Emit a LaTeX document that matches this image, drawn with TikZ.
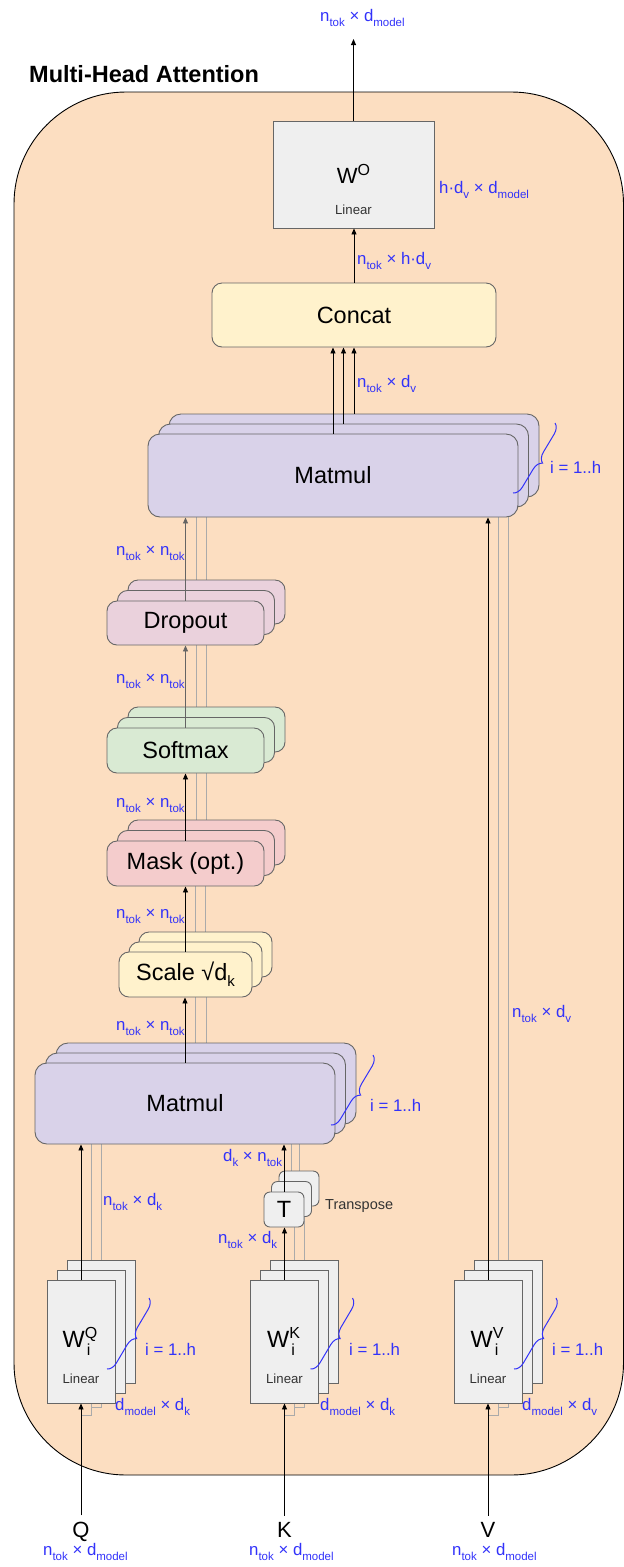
\documentclass[tikz,border=0pt]{standalone}
\usepackage{fontspec}
\setmainfont{Liberation Sans}
\usetikzlibrary{arrows.meta,decorations.pathreplacing,calc}
\definecolor{peach}{RGB}{252,222,193}
\definecolor{lblue}{RGB}{50,50,250}
\definecolor{bord}{RGB}{102,102,102}
\definecolor{cgray}{RGB}{239,239,239}
\definecolor{ccream}{RGB}{255,242,204}
\definecolor{cpurple}{RGB}{217,210,233}
\definecolor{cpink}{RGB}{234,209,220}
\definecolor{cgreen}{RGB}{217,234,211}
\definecolor{cred}{RGB}{244,204,204}
\definecolor{glc}{RGB}{170,170,170}
\definecolor{garr}{RGB}{100,100,100}
\pgfdeclarelayer{back}
\pgfdeclarelayer{bg}
\pgfsetlayers{back,bg,main}
\newcommand\fs[1]{\fontsize{#1}{#1}\selectfont}
\newcommand\lw[1]{\raisebox{-5pt}{\fs{11.5}#1}}
\newcommand\stk[9]{%
 \node[#2,minimum width=#5pt,minimum height=#6pt] (#1c) at ({#3+2*#7},{#4-2*#8}) {};
 \node[#2,minimum width=#5pt,minimum height=#6pt] (#1b) at ({#3+#7},{#4-#8}) {};
 \node[#2,minimum width=#5pt,minimum height=#6pt] (#1a) at (#3,#4) {#9};}
\newcommand\Wsym[1]{\fs{23.5}W\rlap{\raisebox{-8pt}{\hspace{2pt}\fs{16}i}}\raisebox{9pt}{\fs{16}#1}}
\tikzset{
 box/.style={draw=bord, line width=0.9pt, inner sep=0pt, font=\fs{23.5}},
 rbox/.style={box, rounded corners=10pt},
 arr/.style={draw=black, line width=0.9pt, -{Triangle[length=6pt,width=5pt]}},
 garrow/.style={draw=garr, line width=0.9pt, -{Triangle[length=6pt,width=5pt]}},
 gl/.style={draw=glc, line width=0.9pt},
 lab/.style={text=lblue, font=\fs{16.8}, inner sep=0pt, anchor=base west},
 brc/.style={draw=lblue, line width=1pt, decorate, decoration={brace, amplitude=10pt}},
 small/.style={inner sep=0pt, font=\fs{13.2}, text=black!80},
 sym/.style={inner sep=0pt, anchor=center},
}
\begin{document}
\begin{tikzpicture}[x=1pt,y=-1pt]
\useasboundingbox (0,0) rectangle (624,1567);
% outer container
\begin{pgfonlayer}{back}
\node[draw=black, line width=0.9pt, fill=peach, rounded corners=112pt,
      minimum width=609.5pt, minimum height=1383pt, inner sep=0pt] (mha) at (318.75,783.5) {};
\end{pgfonlayer}
\node[anchor=base west, inner sep=0pt, font=\bfseries\fs{23.5}] (title) at (29,82) {Multi-Head Attention};

% ---------- boxes ----------
\stk{mmT}{rbox,fill=cpurple,rounded corners=12pt}{333}{475.5}{370}{83}{10.5}{10}{Matmul}
\stk{dr}{rbox,fill=cpink}{185.5}{623}{157}{44}{10.5}{10.5}{Dropout}
\stk{sm}{rbox,fill=cgreen}{185.5}{750.5}{157}{45}{10.5}{10.5}{Softmax}
\stk{mk}{rbox,fill=cred}{185.5}{863.5}{157}{45}{10.5}{10.5}{Mask (opt.)}
\stk{sc}{rbox,fill=ccream}{185.5}{974.5}{133}{45}{10}{10}{Scale √d\raisebox{-6pt}{\fs{15}k}}
\stk{mmB}{rbox,fill=cpurple,rounded corners=12pt}{185}{1103.5}{300}{81}{10.5}{10}{Matmul}
\stk{t}{rbox,fill=cgray,rounded corners=6pt}{284}{1209.5}{40}{35}{7.5}{10.5}{T}
\stk{wq}{box,fill=cgray}{81}{1341.5}{68}{123}{10}{10}{}
\stk{wk}{box,fill=cgray}{284.5}{1341.5}{68}{123}{10}{10}{}
\stk{wv}{box,fill=cgray}{488}{1341.5}{68}{123}{10}{10}{}
\node[rbox,fill=ccream,minimum width=284pt,minimum height=64pt] (concat) at (354,315) {Concat};
\node[box,fill=cgray,minimum width=161pt,minimum height=107pt] (wo) at (353.5,174.5) {};

% texts inside W boxes
\node[sym] (wosym) at (353.5,174) {\fs{22}W\raisebox{8pt}{\fs{16}O}};
\node[small] (wolin) at (353.5,210) {Linear};
\node[sym] (wqsym) at (80,1341) {\Wsym{Q}};
\node[small] (wqlin) at (81,1379) {Linear};
\node[sym] (wksym) at (283.5,1341) {\Wsym{K}};
\node[small] (wklin) at (284.5,1379) {Linear};
\node[sym] (wvsym) at (487,1341) {\Wsym{V}};
\node[small] (wvlin) at (488,1379) {Linear};
\node[small, font=\fs{14.5}, anchor=base west] (tlab) at (325,1209) {Transpose};

% ---------- gray background lines ----------
\begin{pgfonlayer}{bg}
\foreach \l in {b,c}{
  \draw[gl] (dr\l.north) -- (dr\l.north |- mmTa.south);
  \draw[gl] (sm\l.north) -- (sm\l.north |- dr\l.south);
  \draw[gl] (mk\l.north) -- (mk\l.north |- sm\l.south);
  \draw[gl] (sc\l.north) -- (sc\l.north |- mk\l.south);
  \draw[gl] (mmB\l.north) -- (mmB\l.north |- sc\l.south);
  \draw[gl] (wq\l.north) -- (wq\l.north |- mmBa.south);
  \draw[gl] (wk\l.north) -- (wk\l.north |- t\l.south);
  \draw[gl] (t\l.north) -- (t\l.north |- mmBa.south);
  \draw[gl] (wv\l.north) -- (wv\l.north |- mmTa.south);
}
\foreach \w in {wq,wk,wv}{
  \draw[gl] ($(\w a.south)+(0,12)$) -| (\w b.south);
  \draw[gl] ($(\w b.south)+(0,14)$) -| (\w c.south);
}
\end{pgfonlayer}

% ---------- arrows ----------
\coordinate (outtip) at (353.5,39);
\draw[arr] (wo.north) -- (outtip);
\draw[arr] (concat.north) -- (concat.north |- wo.south);
\draw[arr] (mmTa.north) -- (mmTa.north |- concat.south);
\draw[arr] (mmTb.north) -- (mmTb.north |- concat.south);
\draw[arr] (mmTc.north) -- (mmTc.north |- concat.south);
\draw[garrow] (dra.north) -- (dra.north |- mmTa.south);
\draw[garrow] (sma.north) -- (sma.north |- dra.south);
\draw[arr] (mka.north) -- (mka.north |- sma.south);
\draw[arr] (sca.north) -- (sca.north |- mka.south);
\draw[arr] (mmBa.north) -- (mmBa.north |- sca.south);
\draw[arr] (wqa.north) -- (wqa.north |- mmBa.south);
\draw[arr] (wka.north) -- (wka.north |- ta.south);
\draw[arr] (ta.north) -- (ta.north |- mmBa.south);
\draw[arr] (wva.north) -- (wva.north |- mmTa.south);

% inputs
\node[inner sep=0pt, anchor=base, font=\fs{22}] (q) at (81,1537) {Q};
\node[inner sep=0pt, anchor=base, font=\fs{22}] (k) at (284.5,1537) {K};
\node[inner sep=0pt, anchor=base, font=\fs{22}] (v) at (488,1537) {V};
\draw[arr, shorten <=6pt] (q.north) -- (wqa.south);
\draw[arr, shorten <=6pt] (k.north) -- (wka.south);
\draw[arr, shorten <=6pt] (v.north) -- (wva.south);

% ---------- braces ----------
\coordinate (b1t) at (555,423); \coordinate (b1b) at (513,493);
\coordinate (b2t) at (373,1055); \coordinate (b2b) at (331,1125);
\coordinate (b3t) at (149,1298); \coordinate (b3b) at (107,1369);
\coordinate (b4t) at (352.5,1298); \coordinate (b4b) at (310.5,1369);
\coordinate (b5t) at (556,1298); \coordinate (b5b) at (514,1369);
\foreach \b in {1,...,5}{ \draw[brc] (b\b t) -- (b\b b); }

% ---------- blue labels ----------
\node[lab] (lout) at (320,21) {n\lw{tok} × d\lw{model}};
\node[lab] (lwo) at (439,193) {h·d\lw{v} × d\lw{model}};
\node[lab] (lcat) at (357,264) {n\lw{tok} × h·d\lw{v}};
\node[lab] (lhead) at (357,387) {n\lw{tok} × d\lw{v}};
\node[lab] (ln1) at (116,555) {n\lw{tok} × n\lw{tok}};
\node[lab] (ln2) at (116,683) {n\lw{tok} × n\lw{tok}};
\node[lab] (ln3) at (116,807) {n\lw{tok} × n\lw{tok}};
\node[lab] (ln4) at (116,918) {n\lw{tok} × n\lw{tok}};
\node[lab] (ln5) at (116,1030) {n\lw{tok} × n\lw{tok}};
\node[lab] (lvv) at (512,1017) {n\lw{tok} × d\lw{v}};
\node[lab] (lqk) at (103,1205) {n\lw{tok} × d\lw{k}};
\node[lab] (lkt) at (223,1161) {d\lw{k} × n\lw{tok}};
\node[lab] (lkk) at (218,1243) {n\lw{tok} × d\lw{k}};
\node[lab] (li1) at (550,473) {i = 1..h};
\node[lab] (li2) at (370,1111) {i = 1..h};
\node[lab] (li3) at (145,1355) {i = 1..h};
\node[lab] (li4) at (349,1355) {i = 1..h};
\node[lab] (li5) at (552,1355) {i = 1..h};
\node[lab] (lwq) at (115,1410) {d\lw{model} × d\lw{k}};
\node[lab] (lwk) at (320,1410) {d\lw{model} × d\lw{k}};
\node[lab] (lwv) at (522,1410) {d\lw{model} × d\lw{v}};
\node[lab] (lq) at (43,1555) {n\lw{tok} × d\lw{model}};
\node[lab] (lk) at (249,1555) {n\lw{tok} × d\lw{model}};
\node[lab] (lv) at (452,1555) {n\lw{tok} × d\lw{model}};
\end{tikzpicture}
\end{document}
